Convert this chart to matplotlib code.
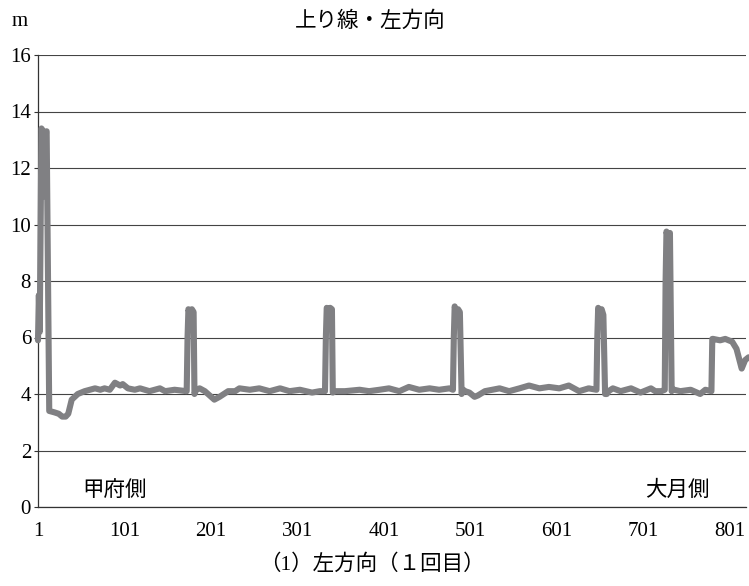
import matplotlib
matplotlib.use("Agg")
import matplotlib.pyplot as plt

plt.rcParams['font.family'] = ['Liberation Serif', 'Noto Sans CJK JP', 'DejaVu Sans']

section_start = [(1, 5.9), (2, 7.5), (3, 6.2), (5, 13.4), (7, 13.3), (8, 11.0), (9, 13.2),
                 (11, 13.3), (14, 3.4), (20, 3.35), (25, 3.3), (29, 3.2), (33, 3.2),
                 (36, 3.3), (40, 3.8), (47, 4.0), (55, 4.1), (67, 4.2), (73, 4.15),
                 (78, 4.2), (84, 4.15), (90, 4.4), (96, 4.3), (99, 4.35), (105, 4.2),
                 (113, 4.15), (119, 4.2), (130, 4.1), (136, 4.15), (142, 4.2),
                 (148, 4.1), (159, 4.15), (173, 4.1)]
section_peak1 = [(174, 6.0), (175, 7.0), (177, 6.8), (179, 7.0), (181, 6.9), (182, 4.0),
                 (184, 4.15), (188, 4.2), (194, 4.1), (205, 3.8), (211, 3.9), (221, 4.1),
                 (229, 4.1), (234, 4.2), (246, 4.15), (257, 4.2), (269, 4.1), (281, 4.2),
                 (292, 4.1), (304, 4.15), (318, 4.05), (327, 4.1), (333, 4.1)]
section_peak2 = [(334, 6.0), (335, 7.05), (337, 6.9), (339, 7.05), (341, 7.0), (342, 4.05),
                 (344, 4.1), (356, 4.1), (373, 4.15), (384, 4.1), (396, 4.15), (407, 4.2),
                 (419, 4.1), (430, 4.25), (442, 4.15), (454, 4.2), (465, 4.15), (477, 4.2),
                 (481, 4.15)]
section_peak3 = [(482, 6.0), (483, 7.1), (485, 6.9), (487, 7.0), (489, 6.9), (491, 4.0),
                 (493, 4.15), (495, 4.1), (500, 4.05), (506, 3.9), (510, 3.95), (518, 4.1),
                 (535, 4.2), (546, 4.1), (558, 4.2), (569, 4.3), (581, 4.2), (592, 4.25),
                 (604, 4.2), (615, 4.3), (627, 4.1), (638, 4.2), (647, 4.15)]
section_peak4 = [(648, 6.0), (649, 7.05), (651, 6.9), (653, 7.0), (655, 6.8), (657, 4.0),
                 (659, 4.0), (661, 4.1), (666, 4.2), (675, 4.1), (687, 4.2), (698, 4.05),
                 (710, 4.2), (715, 4.1), (722, 4.1), (726, 4.15)]
section_peak5 = [(727, 8.0), (728, 9.75), (730, 9.5), (732, 9.7), (734, 4.1), (735, 4.15),
                 (737, 4.15), (744, 4.1), (756, 4.15), (767, 4.0), (773, 4.15), (780, 4.1)]
section_end = [(781, 5.95), (782, 5.95), (790, 5.9), (796, 5.95), (804, 5.85), (809, 5.6),
               (815, 4.9), (819, 5.2), (823, 5.3)]

x_ticks = [1, 101, 201, 301, 401, 501, 601, 701, 801]
y_ticks = [0, 2, 4, 6, 8, 10, 12, 14, 16]

readings = (section_start + section_peak1 + section_peak2 + section_peak3
            + section_peak4 + section_peak5 + section_end)
position = [p for p, _ in readings]
height_m = [h for _, h in readings]

fig = plt.figure(figsize=(7.49, 5.86), dpi=100)
ax = fig.add_axes([38/749, 1 - 507/586, (746 - 38)/749, (507 - 55)/586])

ax.set_xlim(1, 820)
ax.set_ylim(0, 16)
ax.set_yticks(y_ticks)
ax.set_xticks(x_ticks)
ax.set_yticklabels([str(v) for v in y_ticks], fontsize=15)
ax.set_xticklabels([str(v) for v in x_ticks], fontsize=15)
ax.tick_params(axis='y', length=3, pad=2, width=0.8, color='#333333')
ax.tick_params(axis='x', length=0, pad=11)

ax.grid(axis='y', color='#444444', linewidth=0.8)
ax.set_axisbelow(True)
for s in ['top', 'right']:
    ax.spines[s].set_visible(False)
ax.spines['left'].set_color('#333333')
ax.spines['bottom'].set_color('#333333')
ax.spines['left'].set_linewidth(0.9)
ax.spines['bottom'].set_linewidth(0.9)

ax.plot(position, height_m, color='#808083', linewidth=4.4,
        solid_joinstyle='round', solid_capstyle='round', zorder=3, clip_on=False)

fig.text(20/749, 1 - 22/586, 'm', ha='center', va='center', fontsize=15)
fig.text(370/749, 1 - 22/586, '上り線・左方向', ha='center', va='center', fontsize=15.5)
fig.text(115/749, 1 - 491/586, '甲府側', ha='center', va='center', fontsize=15.5)
fig.text(677/749, 1 - 491/586, '大月側', ha='center', va='center', fontsize=15.5)
fig.text(372/749, 1 - 565/586, '（1）左方向（１回目）', ha='center', va='center', fontsize=15.5)

fig.savefig('out.png', dpi=100)
